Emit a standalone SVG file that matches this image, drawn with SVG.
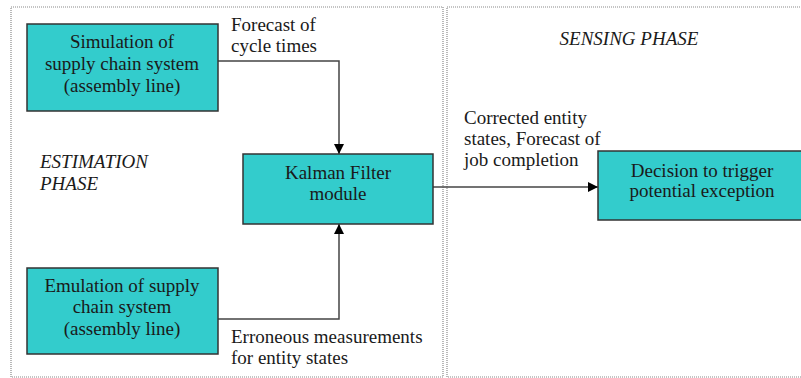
<svg xmlns="http://www.w3.org/2000/svg" width="801" height="378" viewBox="0 0 801 378">
<style>
.phase{fill:none;stroke:#8a8a8a;stroke-width:1.2;stroke-dasharray:1 1}
.box{fill:#33CCCC;stroke:#333;stroke-width:1.5}
text{font-family:Tinos,"Liberation Serif","Times New Roman",serif;font-size:19px;fill:#1a1a1a}
.c{text-anchor:middle}
.i{font-style:italic}
.conn{fill:none;stroke:#444;stroke-width:1.5}
</style>
<defs>
<marker id="ah" viewBox="0 0 10 10" refX="10" refY="5" markerWidth="10" markerHeight="10" markerUnits="userSpaceOnUse" orient="auto">
<path d="M0,0 L10,5 L0,10 z" fill="#000"/>
</marker>
</defs>
<rect class="phase" x="11" y="7" width="432" height="370"/>
<rect class="phase" x="447" y="7" width="360" height="370"/>
<text class="i" x="40" y="168">ESTIMATION</text>
<text class="i" x="40" y="190">PHASE</text>
<text class="i c" x="629" y="45">SENSING PHASE</text>
<g id="connectors">
<polyline class="conn" points="218,61 339,61 339,154" marker-end="url(#ah)"/>
<polyline class="conn" points="218,319 339,319 339,224" marker-end="url(#ah)"/>
<line class="conn" x1="433" y1="187" x2="598" y2="187" marker-end="url(#ah)"/>
<text x="231" y="31">Forecast of</text>
<text x="231" y="52">cycle times</text>
<text x="231" y="343">Erroneous measurements</text>
<text x="231" y="364">for entity states</text>
<text x="464" y="124">Corrected entity</text>
<text x="464" y="145">states, Forecast of</text>
<text x="464" y="166">job completion</text>
</g>
<g id="simulation">
<rect class="box" x="27" y="24" width="191" height="87"/>
<text class="c" x="122" y="48">Simulation of</text>
<text class="c" x="122" y="70">supply chain system</text>
<text class="c" x="122" y="92">(assembly line)</text>
</g>
<g id="emulation">
<rect class="box" x="27" y="268" width="191" height="86"/>
<text class="c" x="122" y="292">Emulation of supply</text>
<text class="c" x="122" y="313">chain system</text>
<text class="c" x="122" y="335">(assembly line)</text>
</g>
<g id="kalman">
<rect class="box" x="243" y="154" width="190" height="70"/>
<text class="c" x="338" y="179">Kalman Filter</text>
<text class="c" x="338" y="200">module</text>
</g>
<g id="decision">
<rect class="box" x="598" y="151" width="215" height="69"/>
<text class="c" x="702" y="177">Decision to trigger</text>
<text class="c" x="702" y="197">potential exception</text>
</g>
</svg>
